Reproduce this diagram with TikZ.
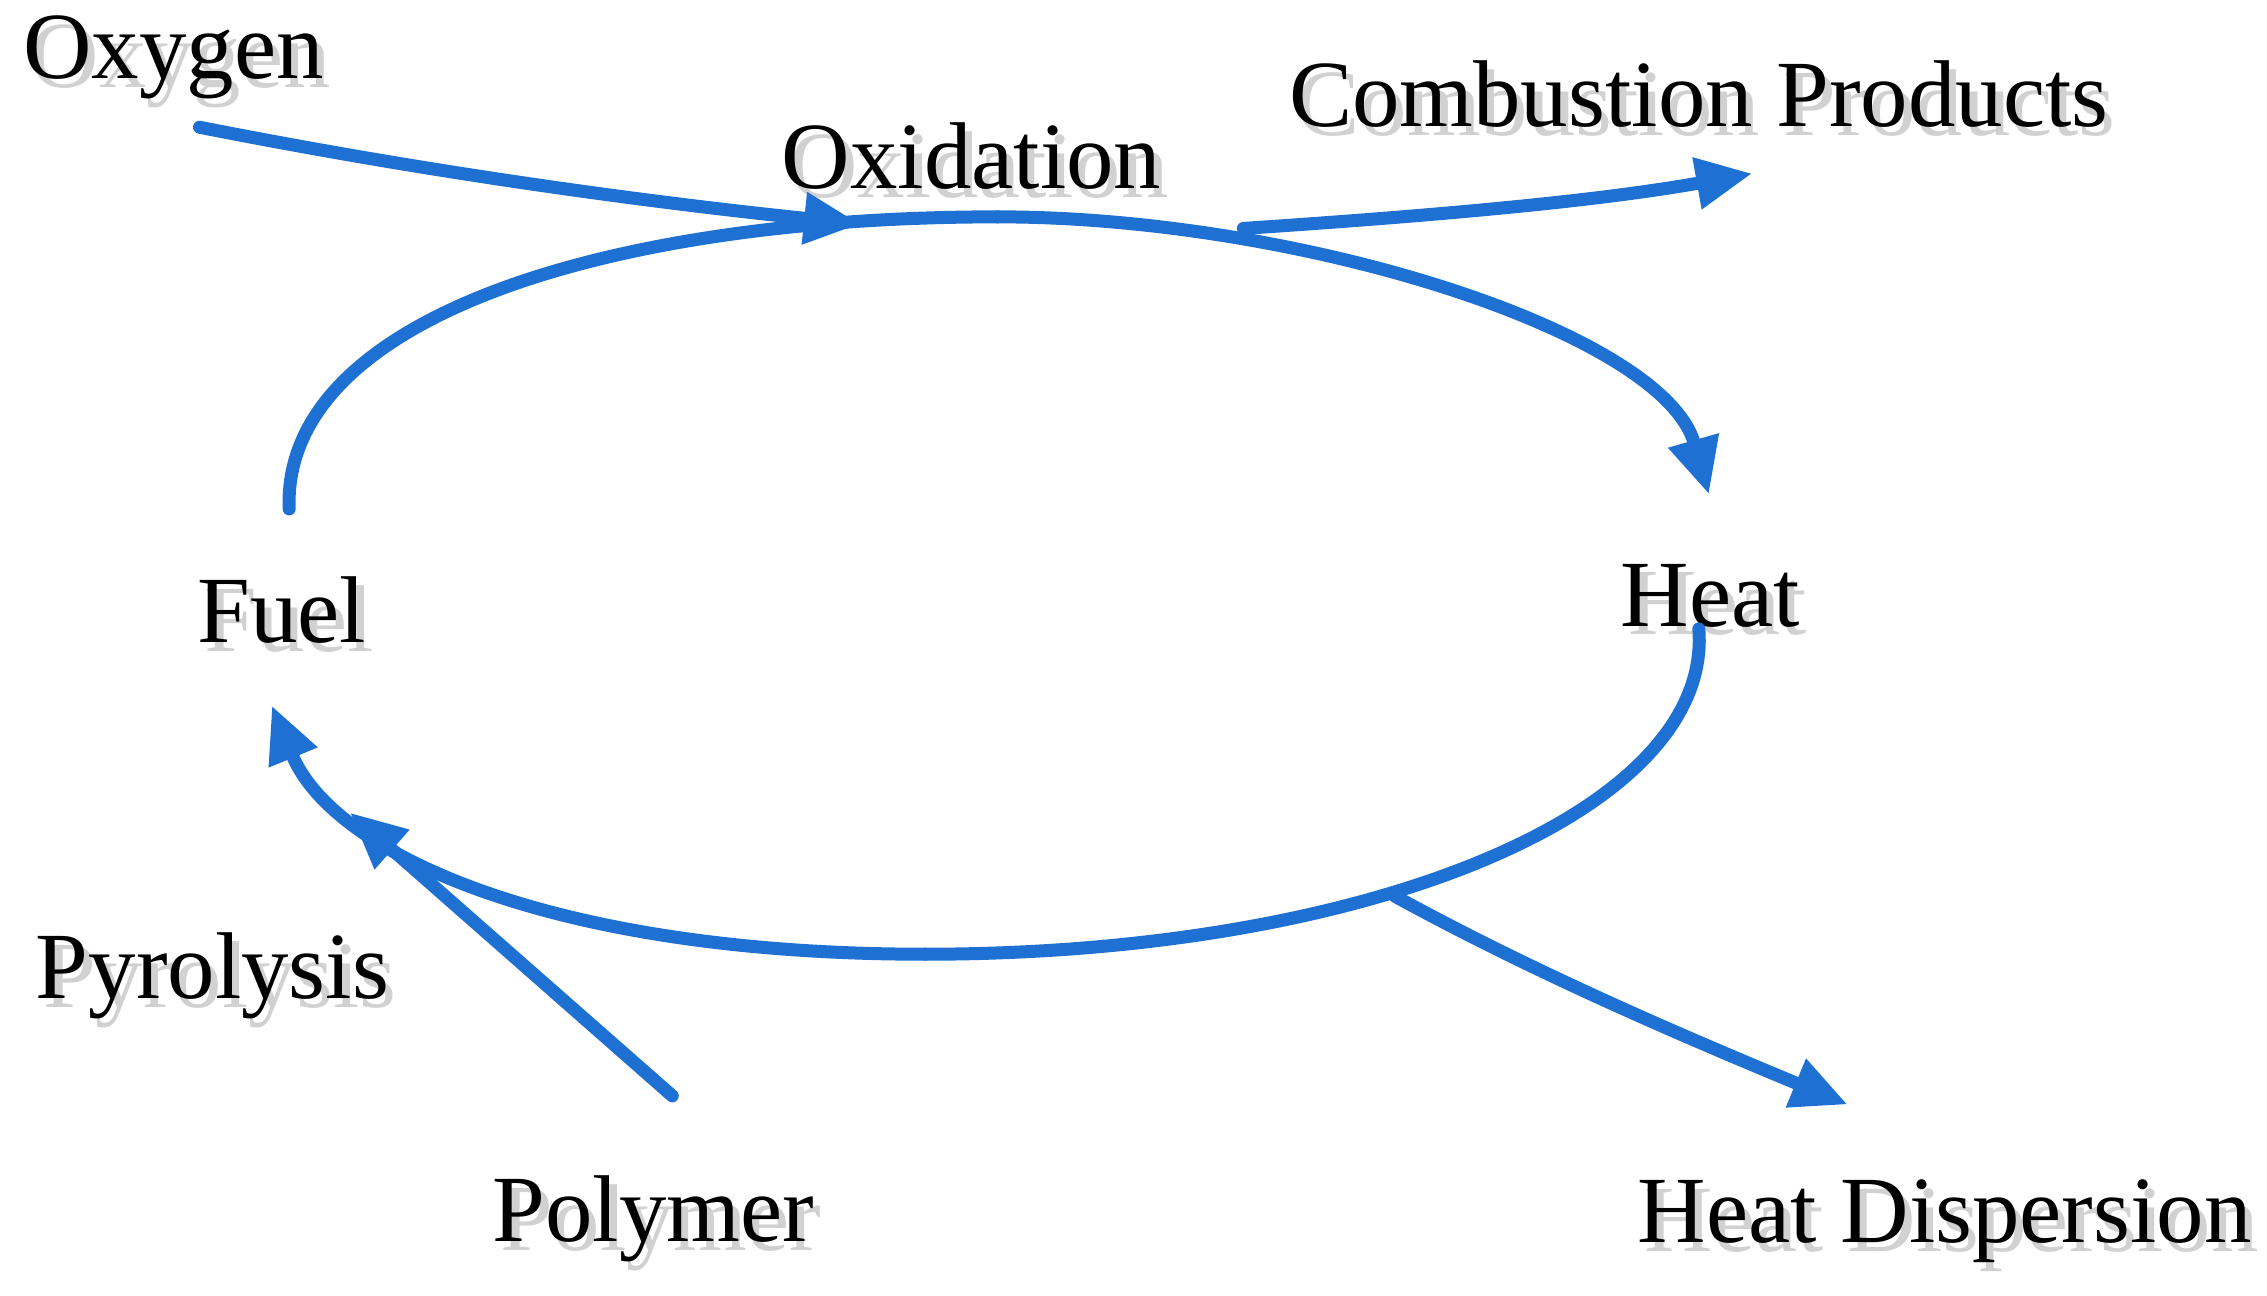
\documentclass[tikz,border=0pt]{standalone}
\usepackage{fontspec}
\setmainfont{Liberation Serif}
\usetikzlibrary{arrows.meta}
\definecolor{fb}{RGB}{30,112,210}
\begin{document}
\begin{tikzpicture}[x=0.014458cm,y=-0.014458cm,
  lab/.style={font=\fontsize{27}{31}\selectfont, inner sep=0pt},
  sh/.style={lab, text=black!18},
  flow/.style={draw=fb, line width=3.7pt, line cap=round},
  tip/.style={-{Triangle[length=16pt,width=14pt]}}]
\useasboundingbox (0,0) rectangle (1568,896);
\foreach \t/\x/\y in {Oxygen/120/40, Combustion Products/1175/65, Oxidation/672/108, Fuel/195/422, Heat/1183/412, Pyrolysis/147/675, Polymer/452/843, Heat Dispersion/1345/845}{
  \node[sh] at (\x+5,\y+6) {\t};
}
\node[lab] (oxy) at (120,40) {Oxygen};
\node[lab] (comb) at (1175,65) {Combustion Products};
\node[lab] (oxi) at (672,108) {Oxidation};
\node[lab] (fuel) at (195,422) {Fuel};
\node[lab] (heat) at (1183,412) {Heat};
\node[lab] (pyro) at (147,675) {Pyrolysis};
\node[lab] (poly) at (452,843) {Polymer};
\node[lab] (hd) at (1345,845) {Heat Dispersion};
\coordinate (o1) at (138,88); \coordinate (o2) at (595,155);
\coordinate (f1) at (200,352); \coordinate (top) at (690,150); \coordinate (h1) at (1182,342);
\coordinate (c1) at (860,158); \coordinate (c2) at (1212,120);
\coordinate (h2) at (1175,435); \coordinate (bot) at (640,660); \coordinate (f2) at (188,488);
\coordinate (p1) at (465,758); \coordinate (p2) at (242,562);
\coordinate (d1) at (965,620); \coordinate (d2) at (1278,764);
\draw[flow,tip] (o1) .. controls (300,120) and (450,140) .. (o2);
\draw[flow] (f1) .. controls (195,220) and (420,150) .. (top);
\draw[flow,tip] (top) .. controls (900,150) and (1150,230) .. (h1);
\draw[flow,tip] (c1) .. controls (980,150) and (1100,140) .. (c2);
\draw[flow] (h2) .. controls (1185,560) and (950,660) .. (bot);
\draw[flow,tip] (bot) .. controls (380,660) and (230,590) .. (f2);
\draw[flow,tip] (p1) -- (p2);
\draw[flow,tip] (d1) .. controls (1060,672) and (1160,715) .. (d2);
\end{tikzpicture}
\end{document}
